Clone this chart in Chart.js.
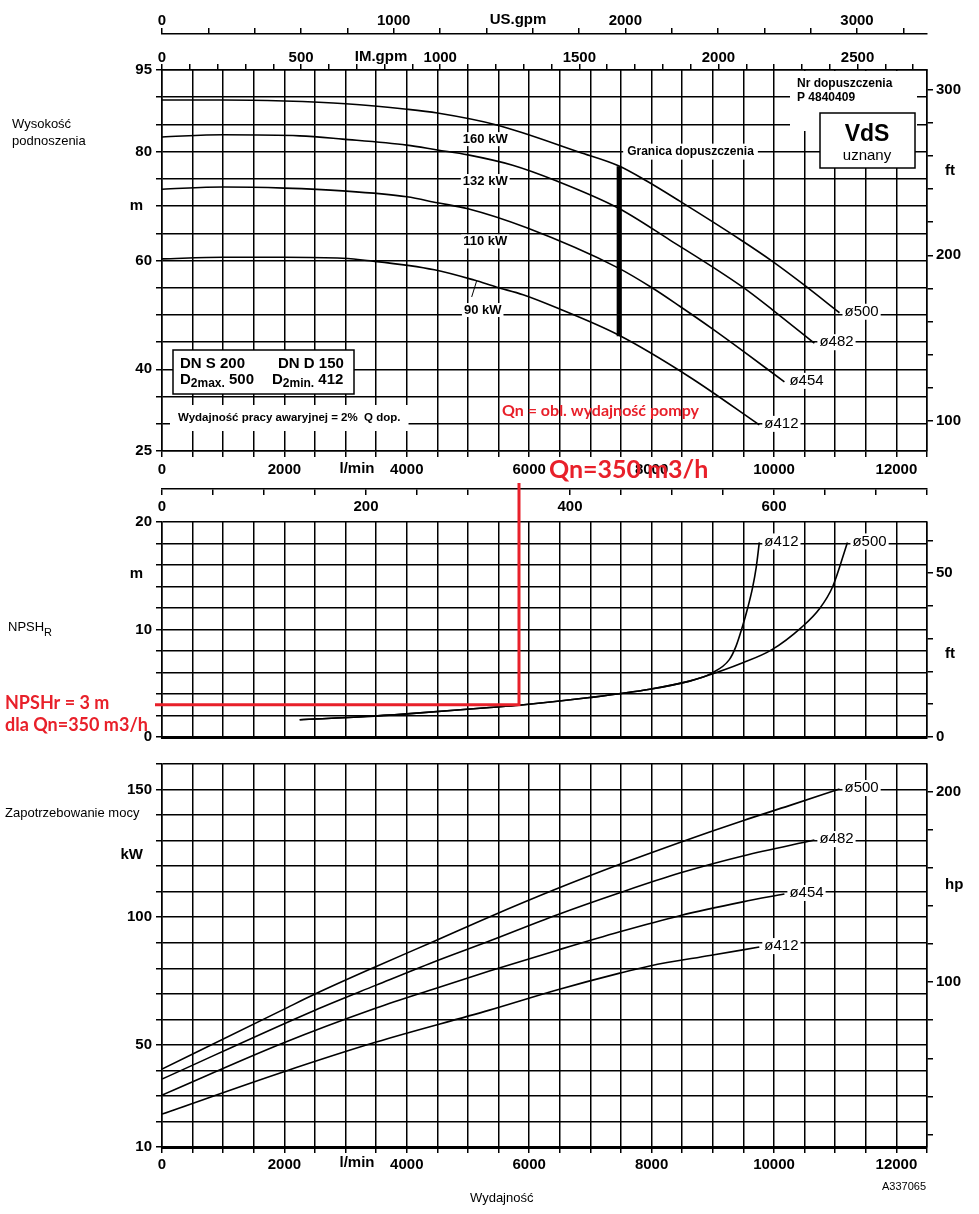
<!DOCTYPE html>
<html><head><meta charset="utf-8">
<script src="https://cdn.jsdelivr.net/npm/chart.js@4.4.0/dist/chart.umd.min.js"></script>
<style>
html,body{margin:0;padding:0;background:#fff;}
body{width:979px;height:1214px;position:relative;overflow:hidden;}
canvas{position:absolute;left:0;}
</style></head><body>
<canvas id="cA" width="979" height="522" style="top:0px"></canvas>
<canvas id="cB" width="979" height="270" style="top:480px"></canvas>
<canvas id="cC" width="979" height="474" style="top:740px"></canvas>
<script>
// ================= DATA =================
const flowMax = 12500;          // l/min (x range)
const qnM3h = 350;              // Qn
const npshAtQn = 3;             // NPSHr at Qn
const limitQ = [7470, 7470];    // Granica dopuszczenia (l/min)
const limitH = [77.3, 46.1];    // m

// Head H [m] vs Q [l/min]
const headQ500 = [0,1000,2000,3000,4000,4500,5470,6820,7460,7920,8460,9440,9980,10470,11070];
const headH500 = [89.5,89.5,89.3,88.8,87.8,87.1,84.9,79.9,77.4,74.6,70.9,63.9,59.8,55.7,50.4];
const headQ482 = [0,1000,2250,2950,4000,4500,5000,5730,6450,7460,8294,9490,9980,10660];
const headH482 = [82.7,83.1,82.9,82.3,81.2,80.3,79.4,77.5,74.6,69.6,63.8,55.1,50.9,44.8];
const headQ454 = [0,1000,2000,2950,4000,4500,5000,5960,7460,8020,8460,9000,9490,10170];
const headH454 = [73.1,73.5,73.3,72.8,71.7,70.6,69.5,66.0,58.6,54.9,51.6,47.4,43.4,37.7];
const headQ412 = [0,1000,2000,2950,3350,4450,5100,5470,5900,6450,7460,8620,9760];
const headH412 = [60.3,60.6,60.6,60.4,60.0,58.3,56.4,55.1,53.7,51.3,46.3,38.6,29.8];

// NPSHR [m] vs Q [l/min]
const npshQ412 = [2250,3350,4000,5355,5833,6990,7970,8620,8830,8950,9270,9380,9470,9570,9650,9710,9760];
const npshV412 = [1.6,1.9,2.15,2.75,2.96,3.67,4.44,5.2,5.55,5.85,7.2,8.45,10.0,12.0,13.9,15.8,18.1];
const npshQ500 = [2250,3350,4000,5355,5833,6990,7970,8620,8830,9490,9960,10450,10740,10960,11200];
const npshV500 = [1.6,1.9,2.15,2.75,2.96,3.67,4.44,5.2,5.55,6.9,8.1,10.2,11.9,14.0,18.1];

// Power P [kW] vs Q [l/min]
const powQ500 = [0,1980,2500,3500,4430,5350,6450,7480,8460,9490,10250,11070];
const powP500 = [40.5,63.8,69.9,80.7,90.4,100.1,111.1,120.7,129.3,137.8,143.7,150.2];
const powQ482 = [0,2500,3500,4430,5350,6450,7480,8460,9490,10660];
const powP482 = [36.6,63.6,73.4,82.4,90.7,100.9,109.6,117.3,124.0,130.2];
const powQ454 = [0,1980,3500,4430,5350,6450,7480,8460,9490,10170];
const powP454 = [30.3,50.7,64.4,71.8,78.9,87.0,94.3,100.6,106.0,109.1];
const powQ412 = [0,1980,3500,5350,6450,7480,7970,8950,9760];
const powP412 = [22.9,39.4,51.1,63.6,71.5,78.1,80.9,85.0,88.3];

// Tick labels
const flowTickLabels = [0,2000,4000,6000,8000,10000,12000];
const usGpmLabels = [0,1000,2000,3000];
const imGpmLabels = [0,500,1000,1500,2000,2500];
const m3hLabels = [0,200,400,600];
const headLabels = [95,80,60,40,25];
const headFtLabels = [100,200,300];
const npshLabels = [20,10,0];
const npshFtLabels = [0,50];
const powerLabels = [150,100,50,10];
const powerHpLabels = [100,200];
const diameterLabels = ['ø500','ø482','ø454','ø412'];
const motorLabels = ['160 kW','132 kW','110 kW','90 kW'];

// Unit conversions
const LPM_PER_USGPM = 3.785411784, LPM_PER_IMGPM = 4.54609, LPM_PER_M3H = 1000/60;
const M_PER_FT = 0.3048, KW_PER_HP = 0.745699872;

// ================= HELPERS =================
const FONT = "'Liberation Sans', Arial, Helvetica, sans-serif";
const RFONT = "Lato, 'Open Sans', sans-serif";
const RED = '#e8202a';
function range(a,b,s){const r=[];for(let v=a;v<=b+1e-9;v+=s)r.push(+v.toFixed(6));return r;}
const pts = (qs,vs)=>qs.map((q,i)=>({x:q,y:vs[i]}));
function curve(qs,vs,label){
  return {data:pts(qs,vs),borderColor:'#000',borderWidth:1.6,pointRadius:0,fill:false,
    cubicInterpolationMode:'monotone',endLabel:label,xAxisID:'x',yAxisID:'y'};
}
function axis(o){
  return {
    type:'linear',axis:o.axis,position:o.pos,weight:o.weight||0,min:o.min,max:o.max,
    afterBuildTicks:sc=>{sc.ticks=o.ticks.map(v=>({value:v}));},
    afterFit:sc=>{ if(o.axis==='x') sc.height=o.size; else sc.width=o.size; },
    ticks:{display:!!o.labels,autoSkip:false,maxRotation:0,minRotation:0,padding:(o.pad!=null?o.pad:3),
      color:'#000',font:{family:FONT,size:15,weight:'bold'},
      callback:v=>(o.labels||[]).some(l=>Math.abs(l-v)<1e-6)?String(v):''},
    grid:{display:true,drawOnChartArea:!!o.onArea,drawTicks:o.tick!==0,tickLength:(o.tick!=null?o.tick:6),
      color:'#000',tickColor:'#000',lineWidth:1.5,tickWidth:1.5},
    border:{display:true,color:'#000',width:o.bw||1.5}
  };
}
function txt(ctx,s,x,y,o){
  ctx.save();
  ctx.font=o.font; ctx.textAlign=o.align||'left'; ctx.textBaseline='middle';
  if(o.bg){
    const w=ctx.measureText(s).width; const h=o.bh||16;
    let x0=x; if(ctx.textAlign==='center')x0=x-w/2; else if(ctx.textAlign==='right')x0=x-w;
    ctx.fillStyle='#fff'; ctx.fillRect(x0-(o.bp||3),y-h/2,w+2*(o.bp||3),h);
  }
  ctx.fillStyle=o.color||'#000'; ctx.fillText(s,x,y);
  ctx.restore();
}
function seq(ctx,parts,x,y){
  ctx.save(); ctx.textBaseline='middle'; ctx.textAlign='left'; ctx.fillStyle='#000';
  parts.forEach(([s,f,dy])=>{ctx.font=f+' '+FONT; ctx.fillText(s,x,y+dy); x+=ctx.measureText(s).width;});
  ctx.restore();
}
function endLabels(chart){
  chart.data.datasets.forEach((ds,i)=>{
    if(!ds.endLabel) return;
    const d=chart.getDatasetMeta(i).data; const p=d[d.length-1];
    txt(chart.ctx,ds.endLabel,p.x+5,p.y-1,{font:'15px '+FONT,bg:true,bh:16,bp:2});
  });
}
const common = {responsive:false,animation:false,devicePixelRatio:1,
  plugins:{legend:{display:false},tooltip:{enabled:false}},elements:{point:{radius:0}}};

// ================= CHART A: head =================
const annotA = {id:'annotA',afterDatasetsDraw(chart){
  const {ctx,scales,chartArea:ca}=chart;
  const X=v=>scales.x.getPixelForValue(v), Y=v=>scales.y.getPixelForValue(v);
  endLabels(chart);
  const kwPos=[[5282,82.3],[5282,74.6],[5282,63.5],[5240,50.9]];
  motorLabels.forEach((t,i)=>txt(ctx,t,X(kwPos[i][0]),Y(kwPos[i][1]),{font:'bold 13px '+FONT,align:'center',bg:true,bh:14,bp:2}));
  ctx.save(); ctx.strokeStyle='#000'; ctx.lineWidth=1; ctx.beginPath();
  ctx.moveTo(X(5060),Y(53.3)); ctx.lineTo(X(5140),Y(56.2)); ctx.stroke(); ctx.restore();
  txt(ctx,'Granica dopuszczenia',X(limitQ[0])+8,Y(80),{font:'bold 12px '+FONT,bg:true,bh:16,bp:4});
  ctx.fillStyle='#fff'; ctx.fillRect(790,ca.top+1,127,60);
  txt(ctx,'Nr dopuszczenia',797,84,{font:'bold 12px '+FONT});
  txt(ctx,'P 4840409',797,98,{font:'bold 12px '+FONT});
  ctx.save(); ctx.fillStyle='#fff'; ctx.fillRect(820,113,95,55);
  ctx.strokeStyle='#000'; ctx.lineWidth=1.5; ctx.strokeRect(820,113,95,55); ctx.restore();
  txt(ctx,'VdS',867,135,{font:'bold 23px '+FONT,align:'center'});
  txt(ctx,'uznany',867,156,{font:'15px '+FONT,align:'center'});
  ctx.save(); ctx.fillStyle='#fff'; ctx.fillRect(173,350,181,44);
  ctx.strokeStyle='#000'; ctx.lineWidth=1.5; ctx.strokeRect(173,350,181,44); ctx.restore();
  txt(ctx,'DN S 200',180,364,{font:'bold 15px '+FONT});
  txt(ctx,'DN D 150',278,364,{font:'bold 15px '+FONT});
  seq(ctx,[['D','bold 15px',0],['2max.','bold 12px',4],[' 500','bold 15px',0]],180,380);
  seq(ctx,[['D','bold 15px',0],['2min.','bold 12px',4],[' 412','bold 15px',0]],272,380);
  txt(ctx,'Wydajność pracy awaryjnej = 2%  Q dop.',178,418,{font:'bold 11.5px '+FONT,bg:true,bh:26,bp:8});
  txt(ctx,'Qn = obl. wydajność pompy',502,411,{font:'bold 16px '+RFONT,color:RED});
  txt(ctx,'Qn=350 m3/h',X(qnM3h*LPM_PER_M3H)+30,470,{font:'bold 25px '+RFONT,color:RED});
  txt(ctx,'Wysokość',12,124,{font:'13px '+FONT});
  txt(ctx,'podnoszenia',12,141,{font:'13px '+FONT});
  txt(ctx,'m',143,Y(70),{font:'bold 15px '+FONT,align:'right'});
  txt(ctx,'ft',945,scales.yft.getPixelForValue(251),{font:'bold 15px '+FONT});
  txt(ctx,'US.gpm',518,20,{font:'bold 15px '+FONT,align:'center'});
  txt(ctx,'IM.gpm',381,57,{font:'bold 15px '+FONT,align:'center'});
  txt(ctx,'l/min',357,469,{font:'bold 15px '+FONT,align:'center'});
}};
new Chart(document.getElementById('cA'),{
  type:'line',
  data:{datasets:[
    curve(headQ500,headH500,diameterLabels[0]),
    curve(headQ482,headH482,diameterLabels[1]),
    curve(headQ454,headH454,diameterLabels[2]),
    curve(headQ412,headH412,diameterLabels[3]),
    {data:pts(limitQ,limitH),borderColor:'#000',borderWidth:5,pointRadius:0,borderCapStyle:'butt',xAxisID:'x',yAxisID:'y'}
  ]},
  options:Object.assign({},common,{layout:{padding:0},scales:{
    x:axis({axis:'x',pos:'bottom',weight:0,min:0,max:flowMax,ticks:range(0,12500,500),labels:flowTickLabels,size:38,onArea:true,pad:4}),
    xm3h:axis({axis:'x',pos:'bottom',weight:1,min:0,max:flowMax/LPM_PER_M3H,ticks:range(0,750,50),labels:m3hLabels,size:33,pad:3}),
    xim:axis({axis:'x',pos:'top',weight:0,min:0,max:flowMax/LPM_PER_IMGPM,ticks:range(0,2700,100),labels:imGpmLabels,size:36,pad:-3}),
    xus:axis({axis:'x',pos:'top',weight:1,min:0,max:flowMax/LPM_PER_USGPM,ticks:range(0,3200,200),labels:usGpmLabels,size:34,pad:-2}),
    y:axis({axis:'y',pos:'left',min:25,max:95,ticks:range(25,95,5),labels:headLabels,size:162,onArea:true,tick:6,pad:4}),
    yft:axis({axis:'y',pos:'right',min:25/M_PER_FT,max:95/M_PER_FT,ticks:range(100,300,20),labels:headFtLabels,size:52,pad:3})
  }}),
  plugins:[annotA]
});

// ================= CHART B: NPSH =================
const annotB = {id:'annotB',afterDatasetsDraw(chart){
  const {ctx,scales,chartArea:ca}=chart;
  const X=v=>scales.x.getPixelForValue(v), Y=v=>scales.y.getPixelForValue(v);
  endLabels(chart);
  const qx=X(qnM3h*LPM_PER_M3H), ny=Y(npshAtQn);
  ctx.save(); ctx.strokeStyle=RED; ctx.lineWidth=3; ctx.lineJoin='miter'; ctx.beginPath();
  ctx.moveTo(qx,3); ctx.lineTo(qx,ny); ctx.lineTo(ca.left-7,ny); ctx.stroke(); ctx.restore();
  txt(ctx,'NPSHr = 3 m',5,ny-2,{font:'bold 18px '+RFONT,color:RED});
  txt(ctx,'dla Qn=350 m3/h',5,ny+20,{font:'bold 18px '+RFONT,color:RED});
  ctx.save(); ctx.font='13px '+FONT; const w=ctx.measureText('NPSH').width; ctx.restore();
  txt(ctx,'NPSH',8,147,{font:'13px '+FONT});
  txt(ctx,'R',8+w,153,{font:'11px '+FONT});
  txt(ctx,'m',143,Y(15.2),{font:'bold 15px '+FONT,align:'right'});
  txt(ctx,'ft',945,scales.yft.getPixelForValue(25.5),{font:'bold 15px '+FONT});
}};
new Chart(document.getElementById('cB'),{
  type:'line',
  data:{datasets:[curve(npshQ412,npshV412,'ø412'),curve(npshQ500,npshV500,'ø500')]},
  options:Object.assign({},common,{layout:{padding:{top:42,left:0,right:0,bottom:0}},scales:{
    x:axis({axis:'x',pos:'bottom',min:0,max:flowMax,ticks:range(0,12500,500),labels:null,size:12,onArea:true,tick:0,bw:3}),
    y:axis({axis:'y',pos:'left',min:0,max:20,ticks:range(0,20,2),labels:npshLabels,size:162,onArea:true,tick:6,pad:4}),
    yft:axis({axis:'y',pos:'right',min:0,max:20/M_PER_FT,ticks:range(0,60,10),labels:npshFtLabels,size:52,pad:3})
  }}),
  plugins:[annotB]
});

// ================= CHART C: power =================
const annotC = {id:'annotC',afterDatasetsDraw(chart){
  const {ctx,scales}=chart;
  const Y=v=>scales.y.getPixelForValue(v);
  endLabels(chart);
  txt(ctx,'Zapotrzebowanie mocy',5,73,{font:'13px '+FONT});
  txt(ctx,'kW',143,Y(124.4),{font:'bold 15px '+FONT,align:'right'});
  txt(ctx,'hp',945,scales.yhp.getPixelForValue(151),{font:'bold 15px '+FONT});
  txt(ctx,'l/min',357,423,{font:'bold 15px '+FONT,align:'center'});
  txt(ctx,'Wydajność',470,458,{font:'13px '+FONT});
  txt(ctx,'A337065',926,447,{font:'11px '+FONT,align:'right'});
}};
new Chart(document.getElementById('cC'),{
  type:'line',
  data:{datasets:[
    curve(powQ500,powP500,diameterLabels[0]),
    curve(powQ482,powP482,diameterLabels[1]),
    curve(powQ454,powP454,diameterLabels[2]),
    curve(powQ412,powP412,diameterLabels[3])
  ]},
  options:Object.assign({},common,{layout:{padding:{top:24,left:0,right:0,bottom:0}},scales:{
    x:axis({axis:'x',pos:'bottom',min:0,max:flowMax,ticks:range(0,12500,500),labels:flowTickLabels,size:67,onArea:true,tick:6,bw:3,pad:3}),
    y:axis({axis:'y',pos:'left',min:10,max:160,ticks:range(10,160,10),labels:powerLabels,size:162,onArea:true,tick:6,pad:4}),
    yhp:axis({axis:'y',pos:'right',min:10/KW_PER_HP,max:160/KW_PER_HP,ticks:range(20,200,20),labels:powerHpLabels,size:52,pad:3})
  }}),
  plugins:[annotC]
});
</script>
</body></html>
